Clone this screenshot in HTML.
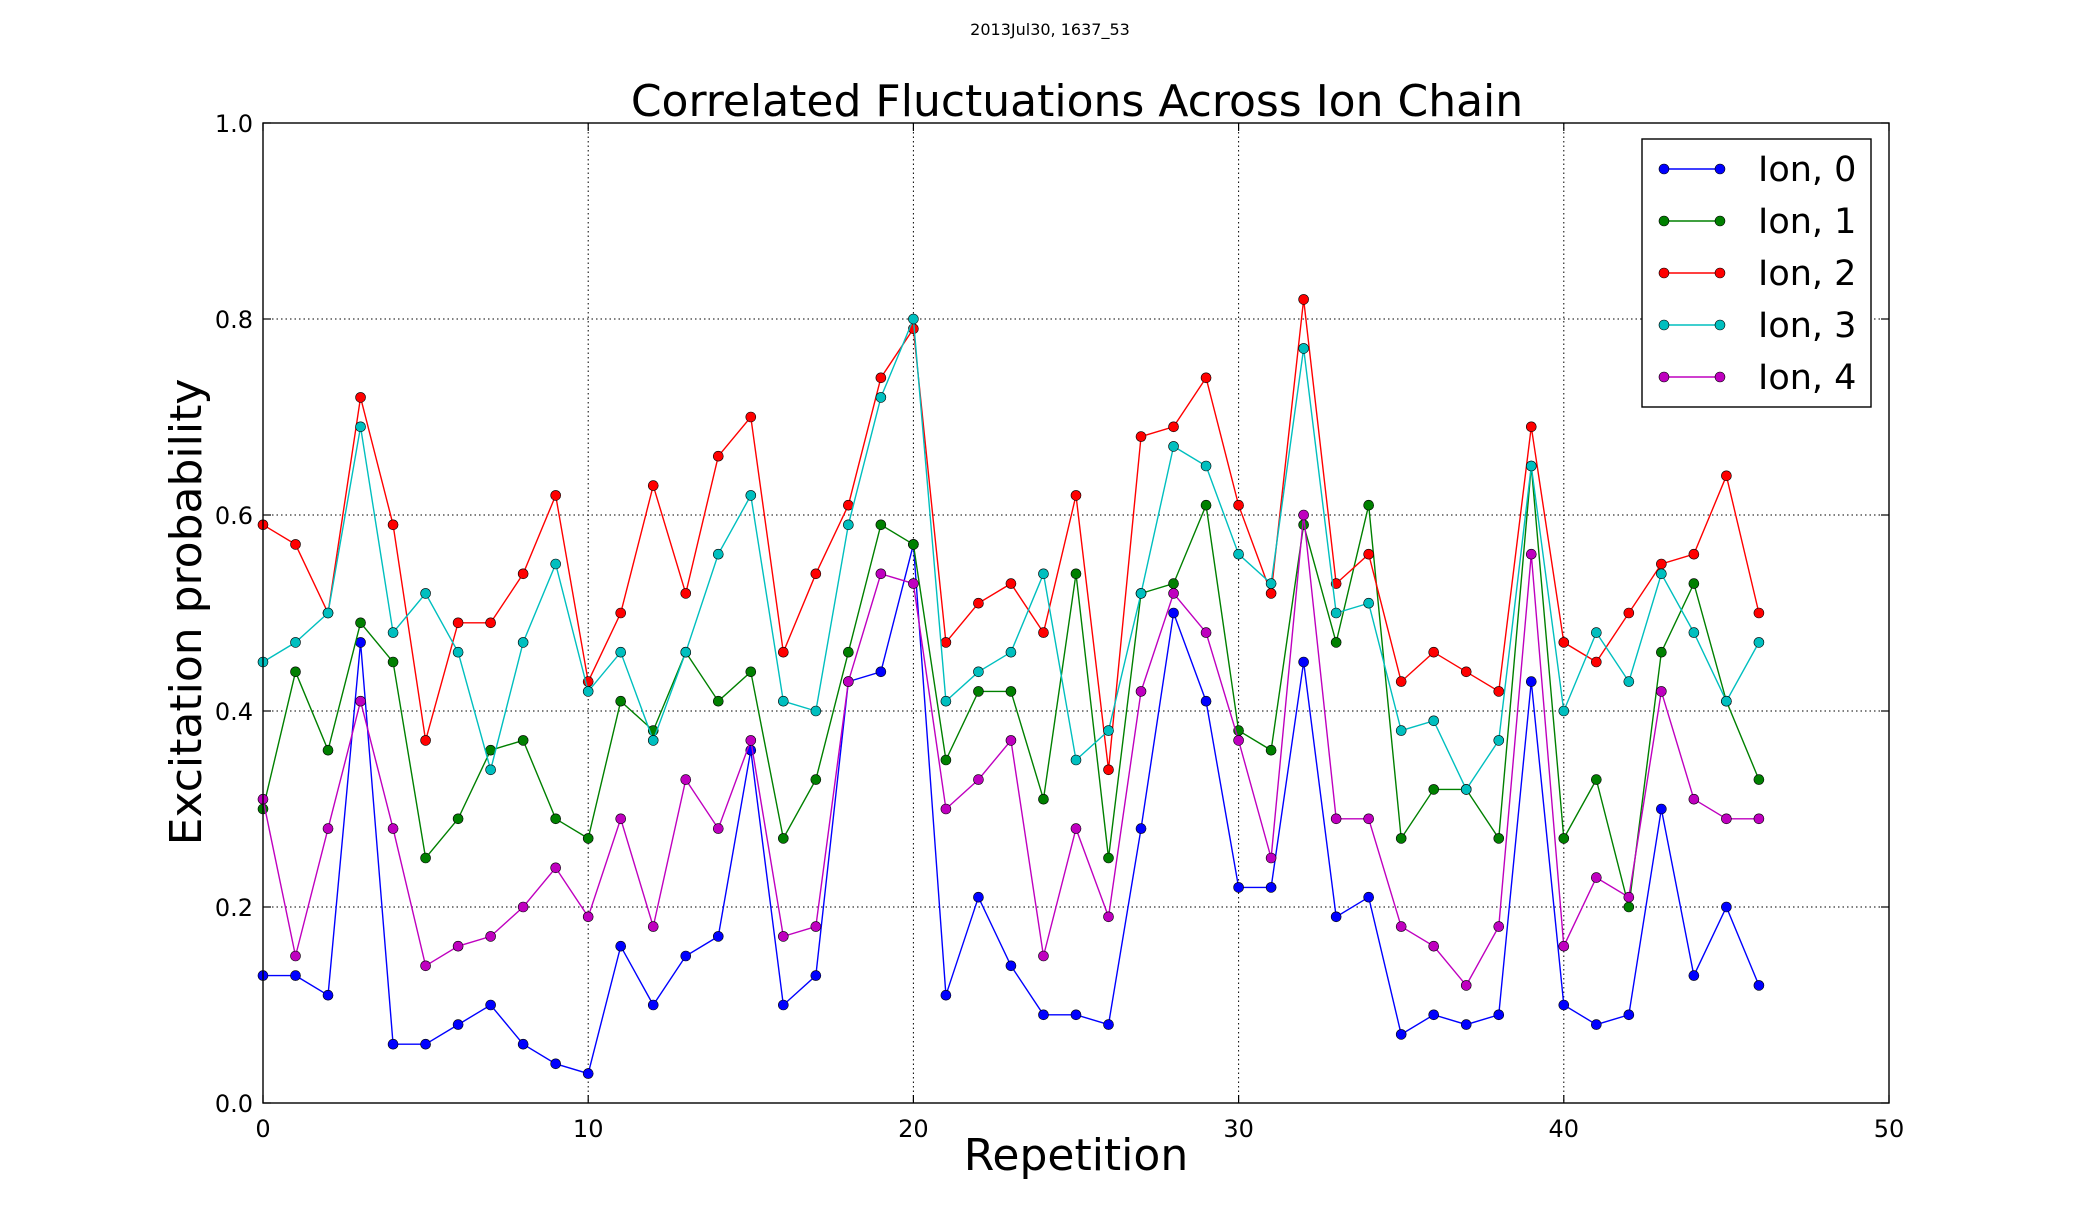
<!DOCTYPE html>
<html><head><meta charset="utf-8"><style>
html,body{margin:0;padding:0;background:#fff}
svg{display:block;font-family:"DejaVu Sans","Liberation Sans",sans-serif}
</style></head><body>
<svg id="chart" width="2100" height="1225" viewBox="0 0 2100 1225">
<rect width="2100" height="1225" fill="#fff"/>
<text x="1050" y="35" font-size="16" text-anchor="middle">2013Jul30, 1637_53</text>
<text x="1077" y="116" font-size="44" text-anchor="middle">Correlated Fluctuations Across Ion Chain</text>
<g id="grid"></g>
<g id="series"></g>
<rect x="263" y="123" width="1626" height="980" fill="none" stroke="#000" stroke-width="1.4"/>
<g id="ticks"></g>
<text x="1076" y="1170" font-size="44" text-anchor="middle">Repetition</text>
<text x="0" y="0" font-size="44" text-anchor="middle" transform="translate(201,612) rotate(-90)">Excitation probability</text>
<g id="legend"></g>
</svg>
<script>
const xTicks=[0,10,20,30,40,50];
const yTicks=[0.0,0.2,0.4,0.6,0.8,1.0];
const seriesNames=["Ion, 0","Ion, 1","Ion, 2","Ion, 3","Ion, 4"];
const seriesColors=["#0000ff","#008000","#ff0000","#00bfbf","#bf00bf"];
const ion0=[0.13,0.13,0.11,0.47,0.06,0.06,0.08,0.10,0.06,0.04,0.03,0.16,0.10,0.15,0.17,0.36,0.10,0.13,0.43,0.44,0.57,0.11,0.21,0.14,0.09,0.09,0.08,0.28,0.50,0.41,0.22,0.22,0.45,0.19,0.21,0.07,0.09,0.08,0.09,0.43,0.10,0.08,0.09,0.30,0.13,0.20,0.12];
const ion1=[0.30,0.44,0.36,0.49,0.45,0.25,0.29,0.36,0.37,0.29,0.27,0.41,0.38,0.46,0.41,0.44,0.27,0.33,0.46,0.59,0.57,0.35,0.42,0.42,0.31,0.54,0.25,0.52,0.53,0.61,0.38,0.36,0.59,0.47,0.61,0.27,0.32,0.32,0.27,0.65,0.27,0.33,0.20,0.46,0.53,0.41,0.33];
const ion2=[0.59,0.57,0.50,0.72,0.59,0.37,0.49,0.49,0.54,0.62,0.43,0.50,0.63,0.52,0.66,0.70,0.46,0.54,0.61,0.74,0.79,0.47,0.51,0.53,0.48,0.62,0.34,0.68,0.69,0.74,0.61,0.52,0.82,0.53,0.56,0.43,0.46,0.44,0.42,0.69,0.47,0.45,0.50,0.55,0.56,0.64,0.50];
const ion3=[0.45,0.47,0.50,0.69,0.48,0.52,0.46,0.34,0.47,0.55,0.42,0.46,0.37,0.46,0.56,0.62,0.41,0.40,0.59,0.72,0.80,0.41,0.44,0.46,0.54,0.35,0.38,0.52,0.67,0.65,0.56,0.53,0.77,0.50,0.51,0.38,0.39,0.32,0.37,0.65,0.40,0.48,0.43,0.54,0.48,0.41,0.47];
const ion4=[0.31,0.15,0.28,0.41,0.28,0.14,0.16,0.17,0.20,0.24,0.19,0.29,0.18,0.33,0.28,0.37,0.17,0.18,0.43,0.54,0.53,0.30,0.33,0.37,0.15,0.28,0.19,0.42,0.52,0.48,0.37,0.25,0.60,0.29,0.29,0.18,0.16,0.12,0.18,0.56,0.16,0.23,0.21,0.42,0.31,0.29,0.29];
const allSeries=[ion0,ion1,ion2,ion3,ion4];

const NS="http://www.w3.org/2000/svg";
const L=263,R=1889,T=123,B=1103;
const xs=v=>L+(v-0)/(50-0)*(R-L);
const ys=v=>B-(v-0)/(1-0)*(B-T);
function mk(tag,attrs,parent){const e=document.createElementNS(NS,tag);for(const k in attrs)e.setAttribute(k,attrs[k]);parent.appendChild(e);return e;}
const grid=document.getElementById('grid'),ticks=document.getElementById('ticks'),ser=document.getElementById('series'),leg=document.getElementById('legend');
xTicks.forEach(t=>{
  const x=xs(t);
  if(t>0&&t<50){const g=mk('line',{x1:x,x2:x,y1:T,y2:B,stroke:'#000','stroke-width':1,'stroke-dasharray':'1.5,3'},grid);
  
  }
  const a=mk('line',{x1:x,x2:x,y1:B,y2:B-8,stroke:'#000','stroke-width':1.2},ticks);
  
  
  const b=mk('line',{x1:x,x2:x,y1:T,y2:T+8,stroke:'#000','stroke-width':1.2},ticks);
  
  
  const tx=mk('text',{x:x,y:B+34,'font-size':24,'text-anchor':'middle'},ticks);tx.textContent=t;
  
  
});
yTicks.forEach(t=>{
  const y=ys(t);
  if(t>0&&t<1){const g=mk('line',{x1:L,x2:R,y1:y,y2:y,stroke:'#000','stroke-width':1,'stroke-dasharray':'1.5,3'},grid);
  
  }
  const a=mk('line',{x1:L,x2:L+8,y1:y,y2:y,stroke:'#000','stroke-width':1.2},ticks);
  
  
  const b=mk('line',{x1:R,x2:R-8,y1:y,y2:y,stroke:'#000','stroke-width':1.2},ticks);
  
  
  const tx=mk('text',{x:L-10,y:y+9,'font-size':24,'text-anchor':'end'},ticks);tx.textContent=t.toFixed(1);
  
  
});
allSeries.forEach((d,i)=>{
  const g=mk('g',{},ser);
  
  
  const pts=d.map((v,j)=>xs(j)+','+ys(v)).join(' ');
  const pl=mk('polyline',{points:pts,fill:'none',stroke:seriesColors[i],'stroke-width':1.4},g);
  
  
  d.forEach((v,j)=>{
    const c=mk('circle',{cx:xs(j),cy:ys(v),r:5,fill:seriesColors[i],stroke:'#000','stroke-width':0.6},g);
    
    
  });
});
const lb=mk('rect',{x:1642,y:139,width:229,height:268,fill:'#fff',stroke:'#000','stroke-width':1.4},leg);


seriesNames.forEach((n,i)=>{
  const y=169+i*52;
  const g=mk('g',{},leg);
  
  
  mk('line',{x1:1664,x2:1720,y1:y,y2:y,stroke:seriesColors[i],'stroke-width':1.4},g);
  mk('circle',{cx:1664,cy:y,r:5,fill:seriesColors[i],stroke:'#000','stroke-width':0.6},g);
  mk('circle',{cx:1720,cy:y,r:5,fill:seriesColors[i],stroke:'#000','stroke-width':0.6},g);
  const t=mk('text',{x:1758,y:y+12,'font-size':35},g);t.textContent=n;
});
</script>
</body></html>
